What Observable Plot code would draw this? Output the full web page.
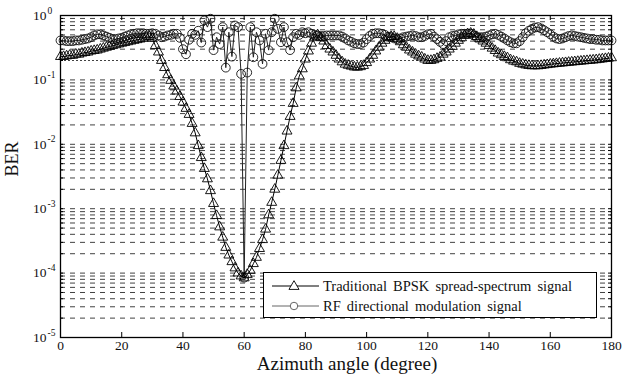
<!DOCTYPE html>
<html>
<head>
<meta charset="utf-8">
<script src="https://cdn.jsdelivr.net/npm/d3@7"></script>
<script src="https://cdn.jsdelivr.net/npm/@observablehq/plot@0.6"></script>
<style>
  html, body { margin: 0; padding: 0; background: #fff; }
  #wrap { position: relative; width: 623px; height: 387px; font-family: "Liberation Serif", "DejaVu Serif", serif; }
  #wrap svg text { font-family: "Liberation Serif", "DejaVu Serif", serif; }
  #legend { position: absolute; left: 263px; top: 272px; width: 332px; height: 44px; border: 1px solid #000; background: #fff; }
  .row { position: absolute; left: 8px; height: 18px; display: flex; align-items: center; font-size: 14.5px; word-spacing: 2.5px; color: #111; white-space: nowrap; font-family: "Liberation Serif", "DejaVu Serif", serif; }
  .row svg { margin-right: 4px; }
</style>
</head>
<body>
<div id="wrap"></div>
<script>
// ---- data ----
const angles = d3.range(0, 181, 1); // azimuth angle (degree)

// Traditional BPSK spread-spectrum signal (BER)
const bpsk = [
  0.23,0.23,0.235,0.24,0.24,0.25,0.25,0.26,0.265,0.27,
  0.28,0.285,0.29,0.30,0.31,0.32,0.33,0.34,0.35,0.36,
  0.37,0.38,0.39,0.40,0.41,0.42,0.43,0.44,0.46,0.47,
  0.44,0.34,0.27,0.20,0.155,0.12,0.098,0.08,0.067,0.055,
  0.045,0.036,0.029,0.021,0.015,0.0095,0.0062,0.0042,0.0029,0.0019,
  0.0012,7.8e-4,5.2e-4,3.6e-4,2.5e-4,1.9e-4,1.5e-4,1.2e-4,1.0e-4,9.0e-5,
  8.4e-5,9.5e-5,1.1e-4,1.4e-4,1.75e-4,2.4e-4,3.3e-4,4.8e-4,8.0e-4,1.25e-3,
  2.0e-3,3.3e-3,5.6e-3,0.0095,0.016,0.027,0.043,0.075,0.115,0.148,
  0.21,0.28,0.37,0.46,0.50,0.45,0.40,0.34,0.30,0.27,
  0.24,0.21,0.19,0.175,0.168,0.163,0.158,0.157,0.16,0.167,
  0.185,0.21,0.24,0.28,0.32,0.37,0.41,0.45,0.47,0.47,
  0.44,0.39,0.35,0.32,0.29,0.27,0.25,0.235,0.225,0.21,
  0.20,0.20,0.205,0.215,0.225,0.25,0.27,0.30,0.33,0.37,
  0.41,0.45,0.49,0.52,0.53,0.51,0.47,0.43,0.40,0.37,
  0.34,0.31,0.285,0.26,0.245,0.23,0.22,0.205,0.195,0.19,
  0.18,0.175,0.17,0.167,0.165,0.165,0.165,0.167,0.17,0.172,
  0.175,0.177,0.179,0.181,0.183,0.185,0.187,0.189,0.191,0.193,
  0.195,0.197,0.199,0.201,0.203,0.205,0.208,0.211,0.214,0.217,
  0.22
];

// RF directional modulation signal (BER)
const rf = [
  0.41,0.41,0.40,0.40,0.40,0.41,0.41,0.42,0.43,0.44,
  0.46,0.49,0.51,0.51,0.49,0.47,0.45,0.43,0.43,0.44,
  0.45,0.47,0.49,0.51,0.52,0.53,0.53,0.53,0.52,0.52,
  0.53,0.52,0.49,0.46,0.47,0.49,0.50,0.52,0.52,0.45,
  0.30,0.25,0.42,0.52,0.50,0.58,0.38,0.84,0.66,0.89,
  0.29,0.46,0.36,0.66,0.155,0.55,0.23,0.70,0.66,0.124,
  8.5e-5,0.13,0.66,0.225,0.55,0.41,0.177,0.52,0.29,0.55,
  0.89,0.62,0.385,0.66,0.385,0.29,0.46,0.52,0.50,0.55,
  0.53,0.55,0.52,0.50,0.49,0.48,0.48,0.49,0.49,0.49,
  0.49,0.49,0.47,0.44,0.41,0.39,0.37,0.36,0.36,0.38,
  0.43,0.48,0.52,0.53,0.53,0.52,0.50,0.47,0.46,0.44,
  0.43,0.44,0.46,0.47,0.48,0.49,0.48,0.46,0.46,0.48,
  0.51,0.52,0.47,0.43,0.39,0.36,0.40,0.46,0.48,0.49,
  0.51,0.52,0.52,0.52,0.52,0.49,0.46,0.46,0.46,0.47,
  0.49,0.51,0.52,0.50,0.47,0.44,0.41,0.385,0.37,0.37,
  0.40,0.46,0.53,0.58,0.62,0.65,0.66,0.63,0.59,0.55,
  0.51,0.47,0.44,0.43,0.44,0.46,0.48,0.49,0.48,0.47,
  0.46,0.45,0.44,0.43,0.43,0.42,0.42,0.41,0.41,0.41,
  0.41
];

const xTicks = [0, 20, 40, 60, 80, 100, 120, 140, 160, 180];
const yDecades = [1e-5, 1e-4, 1e-3, 1e-2, 1e-1, 1];
const minorMultipliers = [1, 2, 3, 4, 5, 6, 7, 8, 9];
const thresholdLine = [0.2];
const xLabel = "Azimuth angle (degree)";
const yLabel = "BER";
const seriesNames = ["Traditional BPSK spread-spectrum signal", "RF directional modulation signal"];

// ---- build ----
const rows = angles.map((a, i) => ({angle: a, bpsk: bpsk[i], rf: rf[i]}));
const gridVals = [];
for (const d of yDecades.slice(0, -1)) for (const m of minorMultipliers) gridVals.push(d * m);
const innerGrid = gridVals.filter(v => v > 1e-5 * 1.0001 && Math.abs(v - 0.2) > 1e-9);

const W = 623, H = 387, ML = 60, MR = 12, MT = 15, MB = 50;
const FW = W - ML - MR, FH = H - MT - MB;
const serif = "'Liberation Serif', 'DejaVu Serif', serif";

const chart = Plot.plot({
  width: W, height: H,
  marginLeft: ML, marginRight: MR, marginTop: MT, marginBottom: MB,
  x: {domain: [0, 180], axis: null},
  y: {type: "log", domain: [1e-5, 1], axis: null},
  style: {fontFamily: serif, fontSize: "13.5px", background: "#fff", color: "#000", overflow: "visible"},
  marks: [
    Plot.ruleY(innerGrid, {stroke: "#111", strokeWidth: 0.8, strokeDasharray: "5,5"}),
    Plot.ruleY(thresholdLine, {stroke: "#111", strokeWidth: 0.8, strokeDasharray: "2,2"}),
    // tick marks (inward)
    Plot.ruleX(xTicks.slice(1, -1), {insetTop: FH - 5, stroke: "#000"}),
    Plot.ruleX(xTicks.slice(1, -1), {insetBottom: FH - 5, stroke: "#000"}),
    Plot.ruleY(gridVals, {insetRight: FW - 3, stroke: "#000"}),
    Plot.ruleY(gridVals, {insetLeft: FW - 3, stroke: "#000"}),
    // RF directional modulation
    Plot.line(rows, {x: "angle", y: "rf", stroke: "#222", strokeWidth: 1}),
    Plot.dot(rows, {x: "angle", y: "rf", symbol: "circle", r: 4.4, stroke: "#111", strokeWidth: 0.9, fill: "none"}),
    // Traditional BPSK
    Plot.line(rows, {x: "angle", y: "bpsk", stroke: "#000", strokeWidth: 1}),
    Plot.dot(rows, {x: "angle", y: "bpsk", symbol: "triangle", r: 3.7, stroke: "#000", strokeWidth: 0.9, fill: "none"}),
    Plot.frame({stroke: "#000", strokeWidth: 1.3}),
    // x tick labels
    Plot.text(xTicks, {x: d => d, frameAnchor: "bottom", dy: 12, fontSize: 13.5, fill: "#111", fontFamily: serif}),
    // y tick labels 10^n
    Plot.text(yDecades, {y: d => d, frameAnchor: "left", text: () => "10", dx: -14, textAnchor: "end", fontSize: 13.5, fill: "#111", fontFamily: serif}),
    Plot.text(yDecades, {y: d => d, frameAnchor: "left", text: d => String(Math.round(Math.log10(d))), dx: -13, dy: -5, textAnchor: "start", fontSize: 9.5, fill: "#111", fontFamily: serif}),
    // axis titles
    Plot.text([xLabel], {frameAnchor: "bottom", dy: 32, dx: 11, fontSize: 19, fill: "#111", fontFamily: serif}),
    Plot.text([yLabel], {frameAnchor: "left", dx: -48, rotate: -90, fontSize: 18, fill: "#111", fontFamily: serif})
  ]
});

const wrap = document.getElementById("wrap");
wrap.appendChild(chart);

// legend
const legend = document.createElement("div");
legend.id = "legend";
const triSym = d3.symbol(d3.symbolTriangle, 44)();
const cirSym = d3.symbol(d3.symbolCircle, 44)();
legend.innerHTML = `
  <div class="row" style="top:4px">
    <svg width="47" height="14"><line x1="0" x2="47" y1="7" y2="7" stroke="#000" stroke-width="1"/>
      <path d="${triSym}" transform="translate(22,7.5)" fill="#fff" stroke="#000" stroke-width="0.9"/></svg>
    <span>${seriesNames[0]}</span>
  </div>
  <div class="row" style="top:24px">
    <svg width="47" height="14"><line x1="0" x2="47" y1="7" y2="7" stroke="#666" stroke-width="1"/>
      <path d="${cirSym}" transform="translate(22,7)" fill="#fff" stroke="#555" stroke-width="0.9"/></svg>
    <span>${seriesNames[1]}</span>
  </div>`;
wrap.appendChild(legend);
</script>
</body>
</html>
